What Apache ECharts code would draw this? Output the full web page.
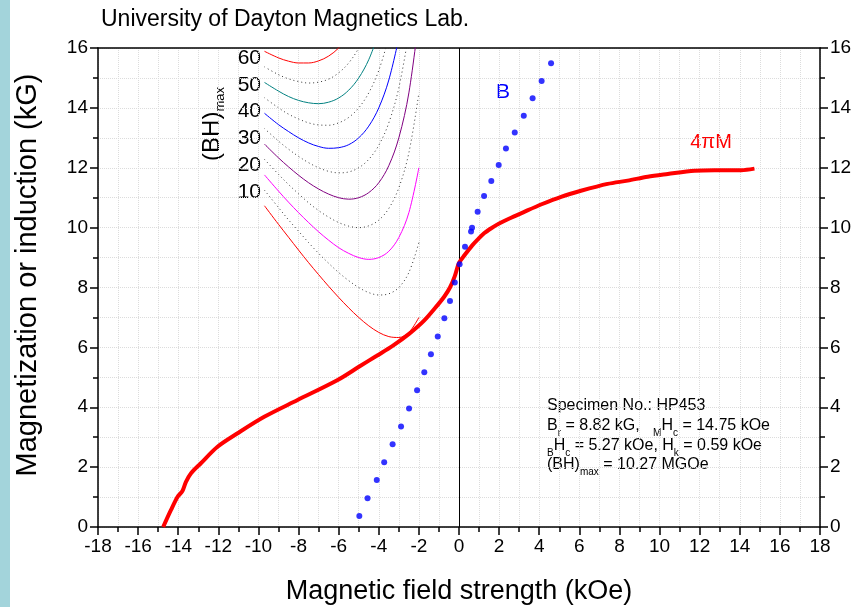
<!DOCTYPE html>
<html>
<head>
<meta charset="utf-8">
<script src="https://cdn.jsdelivr.net/npm/echarts@6/dist/echarts.min.js"></script>
<style>
html, body { margin: 0; padding: 0; background: #fff; }
#main { width: 854px; height: 607px; }
</style>
</head>
<body>
<div id="main"></div>
<script>
// 4piM demagnetization curve (kOe, kG)
var mH = [-14.75, -14.36, -14.03, -13.79, -13.62, -13.37, -12.87, -12.04, -11.04, -9.71, -8.05, -6.05, -4.97, -4.1, -3.31, -2.49, -1.73, -1.06, -0.73, -0.45, -0.21, 0, 0.3, 0.65, 0.93, 1.25, 1.61, 1.98, 2.6, 3.23, 4.12, 5.09, 6.08, 7.41, 8.41, 9.41, 10.41, 11.74, 12.74, 14.08, 14.73];
var mM = [0, 0.57, 1.01, 1.2, 1.5, 1.79, 2.13, 2.68, 3.13, 3.68, 4.24, 4.91, 5.36, 5.72, 6.05, 6.45, 6.9, 7.42, 7.7, 8.0, 8.38, 8.82, 9.1, 9.4, 9.6, 9.81, 9.98, 10.13, 10.33, 10.52, 10.78, 11.03, 11.23, 11.46, 11.57, 11.7, 11.79, 11.9, 11.92, 11.92, 11.97];

// B points
var bH = [-4.97, -4.56, -4.1, -3.73, -3.31, -2.89, -2.49, -2.09, -1.73, -1.4, -1.06, -0.73, -0.45, -0.21, 0.03, 0.3, 0.6, 0.65, 0.93, 1.25, 1.61, 1.98, 2.34, 2.78, 3.23, 3.67, 4.12, 4.59];
var bB = [0.37, 0.96, 1.57, 2.16, 2.76, 3.36, 3.96, 4.57, 5.17, 5.77, 6.36, 6.97, 7.55, 8.17, 8.78, 9.36, 9.87, 10.0, 10.53, 11.06, 11.56, 12.09, 12.64, 13.18, 13.74, 14.32, 14.9, 15.49];

// (BH)max guide curves, read at these H values
var gH = [-9.7, -9, -8.5, -8, -7.5, -7, -6.5, -6, -5.5, -5, -4.5, -4, -3.5, -3, -2.5, -2];
var bh10 = [10.73, 10.11, 9.68, 9.25, 8.83, 8.43, 8.04, 7.67, 7.32, 7.0, 6.72, 6.5, 6.36, 6.33, 6.5, 7.0];
var bh15 = [11.25, 10.67, 10.26, 9.88, 9.5, 9.14, 8.81, 8.5, 8.23, 8.0, 7.83, 7.75, 7.79, 8.0, 8.5, 9.5];
var bh20 = [11.76, 11.22, 10.85, 10.5, 10.17, 9.86, 9.58, 9.33, 9.14, 9.0, 8.94, 9.0, 9.21, 9.67, 10.5, 12.0];
var bh25 = [12.28, 11.78, 11.44, 11.13, 10.83, 10.57, 10.35, 10.17, 10.05, 10.0, 10.06, 10.25, 10.64, 11.33, 12.5, 14.5];
var bh30 = [12.79, 12.33, 12.03, 11.75, 11.5, 11.29, 11.12, 11.0, 10.95, 11.0, 11.17, 11.5, 12.07, 13.0, 14.5, 17.0];
var bh35 = [13.31, 12.89, 12.62, 12.38, 12.17, 12.0, 11.88, 11.83, 11.86, 12.0, 12.28, 12.75, 13.5, 14.67, 16.5];
var bh40 = [13.82, 13.44, 13.21, 13.0, 12.83, 12.71, 12.65, 12.67, 12.77, 13.0, 13.39, 14.0, 14.93, 16.33];
var bh45 = [14.34, 14.0, 13.79, 13.63, 13.5, 13.43, 13.42, 13.5, 13.68, 14.0, 14.5, 15.25, 16.36];
var bh50 = [14.85, 14.56, 14.38, 14.25, 14.17, 14.14, 14.19, 14.33, 14.59, 15.0, 15.61, 16.5];
var bh55 = [15.37, 15.11, 14.97, 14.88, 14.83, 14.86, 14.96, 15.17, 15.5, 16.0, 16.72];
var bh60 = [15.89, 15.67, 15.56, 15.5, 15.5, 15.57, 15.73, 16.0, 16.41, 17.0];

var bhLabels = ['60', '50', '40', '30', '20', '10'];

function pairs(xs, ys) {
    return ys.map(function(v, i) {
        return [xs[i], v];
    });
}

var myChart = echarts.init(document.getElementById('main'));

var gridLine = { show: true, lineStyle: { color: '#dcdcdc', type: 'dotted', width: 1 } };
var blackLine = { color: '#000', width: 1.5 };

function guide(data, color, dotted) {
    return {
        type: 'line',
        data: pairs(gH, data),
        smooth: 0.35,
        symbol: 'none',
        silent: true,
        z: 3,
        lineStyle: dotted ? { color: '#333', width: 1, type: [1, 3] } : { color: color, width: 1 }
    };
}

var textStyleBox = {
    t: { fontSize: 16, lineHeight: 18, verticalAlign: 'top', fontFamily: 'Liberation Sans', color: '#000' },
    s: { fontSize: 10, lineHeight: 10, verticalAlign: 'top', padding: [10, 0, 0, 0], fontFamily: 'Liberation Sans', color: '#000' }
};

var labelEls = bhLabels.map(function(v, i) {
    return {
        type: 'text',
        x: 261,
        y: 58 + i * 26.8,
        style: { text: v, fontSize: 21, fontFamily: 'Liberation Sans', fill: '#000', align: 'right', verticalAlign: 'middle' }
    };
});

var option = {
    backgroundColor: '#fff',
    animation: false,
    grid: { left: 98, right: 34, top: 48, bottom: 80, containLabel: false, outerBoundsMode: 'none' },
    xAxis: [{
        type: 'value',
        min: -18,
        max: 18,
        interval: 2,
        name: 'Magnetic field strength (kOe)',
        nameLocation: 'middle',
        nameGap: 51,
        nameTextStyle: { fontSize: 27, fontFamily: 'Liberation Sans', color: '#000' },
        axisLine: { onZero: false, lineStyle: blackLine },
        axisTick: { length: 8, lineStyle: blackLine },
        minorTick: { show: true, splitNumber: 2, length: 5, lineStyle: blackLine },
        axisLabel: { fontSize: 19, fontFamily: 'Liberation Sans', color: '#000', margin: 10 },
        splitLine: gridLine,
        minorSplitLine: gridLine
    }, {
        type: 'value',
        position: 'top',
        min: -18,
        max: 18,
        interval: 2,
        axisLine: { show: true, onZero: false, lineStyle: blackLine },
        axisTick: { show: false },
        axisLabel: { show: false },
        splitLine: { show: false }
    }],
    yAxis: [{
        type: 'value',
        min: 0,
        max: 16,
        interval: 2,
        axisLine: { show: true, onZero: false, lineStyle: blackLine },
        axisTick: { length: 8, lineStyle: blackLine },
        minorTick: { show: true, splitNumber: 2, length: 5, lineStyle: blackLine },
        axisLabel: { fontSize: 19, fontFamily: 'Liberation Sans', color: '#000', margin: 10 },
        splitLine: gridLine,
        minorSplitLine: gridLine
    }, {
        type: 'value',
        position: 'right',
        min: 0,
        max: 16,
        interval: 2,
        axisLine: { show: true, onZero: false, lineStyle: blackLine },
        axisTick: { length: 8, lineStyle: blackLine },
        minorTick: { show: true, splitNumber: 2, length: 5, lineStyle: blackLine },
        axisLabel: { fontSize: 19, fontFamily: 'Liberation Sans', color: '#000', margin: 10 },
        splitLine: { show: false }
    }],
    series: [
        guide(bh10, '#ff0000'),
        guide(bh15, null, true),
        guide(bh20, '#ff00ff'),
        guide(bh25, null, true),
        guide(bh30, '#800080'),
        guide(bh35, null, true),
        guide(bh40, '#0000ff'),
        guide(bh45, null, true),
        guide(bh50, '#008080'),
        guide(bh55, null, true),
        guide(bh60, '#ff0000'),
        {
            name: '4piM',
            type: 'line',
            data: pairs(mH, mM),
            smooth: 0.3,
            symbol: 'none',
            z: 5,
            lineStyle: { color: '#ff0000', width: 4 },
            markLine: {
                silent: true,
                symbol: 'none',
                label: { show: false },
                lineStyle: { color: '#000', width: 1, type: 'solid' },
                data: [{ xAxis: 0 }]
            }
        },
        {
            name: 'B',
            type: 'scatter',
            data: pairs(bH, bB),
            symbol: 'circle',
            symbolSize: 6,
            z: 6,
            itemStyle: { color: '#0000ff' }
        }
    ],
    graphic: [
        { type: 'rect', shape: { x: 0, y: 0, width: 10, height: 607 }, style: { fill: '#a3d4db' }, silent: true },
        {
            type: 'text', x: 101, y: 20,
            style: { text: 'University of Dayton Magnetics Lab.', fontSize: 23, fontFamily: 'Liberation Sans', fill: '#000', verticalAlign: 'middle' }
        },
        {
            type: 'text', x: 28, y: 275, rotation: Math.PI / 2,
            style: { text: 'Magnetization or induction (kG)', fontSize: 29, fontFamily: 'Liberation Sans', fill: '#000', align: 'center', verticalAlign: 'middle' }
        },
        {
            type: 'text', x: 213, y: 124, rotation: Math.PI / 2,
            style: {
                text: '{a|(BH)}{b|max}',
                align: 'center', verticalAlign: 'middle',
                rich: {
                    a: { fontSize: 24, lineHeight: 26, verticalAlign: 'top', fontFamily: 'Liberation Sans', color: '#0000ff' },
                    b: { fontSize: 13, lineHeight: 13, verticalAlign: 'top', padding: [14, 0, 0, 0], fontFamily: 'Liberation Sans', color: '#0000ff' }
                }
            }
        },
        {
            type: 'text', x: 503, y: 92,
            style: { text: 'B', fontSize: 21, fontFamily: 'Liberation Sans', fill: '#0000ff', align: 'center', verticalAlign: 'middle' }
        },
        {
            type: 'text', x: 711, y: 142,
            style: { text: '4πM', fontSize: 20, fontFamily: 'Liberation Sans', fill: '#ff0000', align: 'center', verticalAlign: 'middle' }
        },
        {
            type: 'text', x: 547, y: 398,
            style: { text: 'Specimen No.: HP453', fontSize: 16, fontFamily: 'Liberation Sans', fill: '#000' }
        },
        {
            type: 'text', x: 547, y: 418,
            style: { text: '{t|B}{s|r}{t| = 8.82 kG,   }{s|M}{t|H}{s|c}{t| = 14.75 kOe}', rich: textStyleBox }
        },
        {
            type: 'text', x: 547, y: 438,
            style: { text: '{s|B}{t|H}{s|c}{t| = 5.27 kOe, H}{s|k}{t| = 0.59 kOe}', rich: textStyleBox }
        },
        {
            type: 'text', x: 547, y: 457,
            style: { text: '{t|(BH)}{s|max}{t| = 10.27 MGOe}', rich: textStyleBox }
        }
    ].concat(labelEls)
};

myChart.setOption(option);
</script>
</body>
</html>
